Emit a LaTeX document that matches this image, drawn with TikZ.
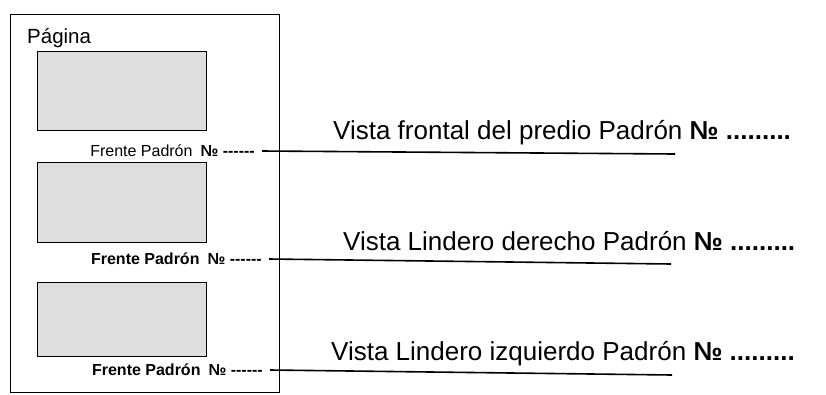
\documentclass[tikz,border=0pt]{standalone}
\usepackage{fontspec}
\setmainfont{Liberation Sans}
\usetikzlibrary{positioning}
\colorlet{fotocol}{black!13}
\newcommand{\guiones}{-{}-{}-{}-{}-{}-}
\tikzstyle{marco}=[draw,line width=1.2pt,inner sep=0pt,anchor=north west]
\tikzstyle{foto}=[marco,fill=fotocol,minimum width=169pt]
\tikzstyle{pie}=[inner sep=0pt,anchor=east,font=\fontsize{16}{18}\selectfont]
\tikzstyle{vista}=[inner sep=0pt,anchor=base west,font=\fontsize{26}{30}\selectfont]
\tikzstyle{guia}=[line width=1.6pt]

\begin{document}
\begin{tikzpicture}[x=1pt,y=-1pt]
  \useasboundingbox (0,0) rectangle (826,394);

  % hoja con las tres fotos
  \node[marco,minimum width=269pt,minimum height=378pt] (pagina) at (10,14) {};
  \node[anchor=base west,inner sep=0pt,font=\fontsize{20.5}{22}\selectfont] (titulo) at (27,43) {Página};
  \node[foto,minimum height=79pt] (foto1) at (37,51) {};
  \node[foto,minimum height=80pt] (foto2) at (37,162) {};
  \node[foto,minimum height=74pt] (foto3) at (37,282) {};

  \node[pie] (pie1) at (255,151) {Frente Padrón\enspace\textbf{№ \guiones}};
  \node[pie] (pie2) at (262,259) {\textbf{Frente Padrón\enspace № \guiones}};
  \node[pie] (pie3) at (263,370) {\textbf{Frente Padrón\enspace № \guiones}};

  % rotulos de la derecha
  \node[vista] (vista1) at (333,139) {Vista frontal del predio Padrón \textbf{№ .........}};
  \node[vista] (vista2) at (343,250) {Vista Lindero derecho Padrón \textbf{№ .........}};
  \node[vista] (vista3) at (331,360) {Vista Lindero izquierdo Padrón \textbf{№ .........}};

  \coordinate (fin1) at (675,154);
  \coordinate (fin2) at (671,264);
  \coordinate (fin3) at (672,375);
  \draw[guia] ([xshift=7pt]pie1.east) -- (fin1);
  \draw[guia] ([xshift=7pt]pie2.east) -- (fin2);
  \draw[guia] ([xshift=7pt]pie3.east) -- (fin3);
\end{tikzpicture}
\end{document}
